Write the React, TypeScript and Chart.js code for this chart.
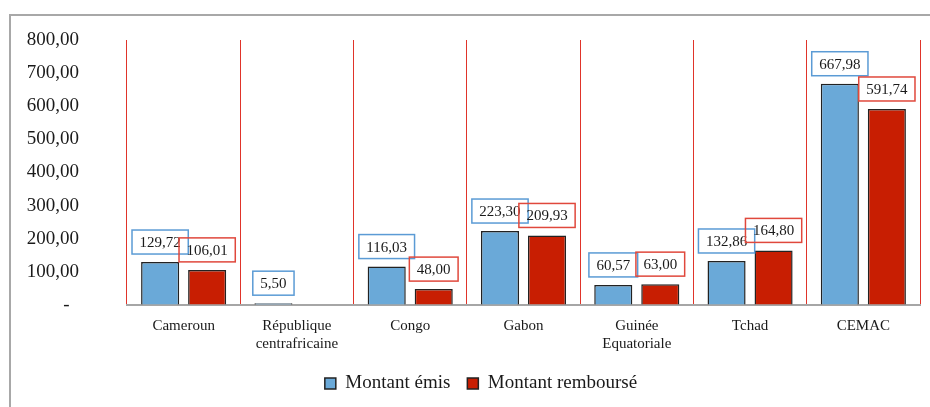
import React, { useEffect, useRef } from "react";
import { Chart, registerables } from "chart.js";

Chart.register(...registerables);

const categories: (string | string[])[] = [
  "Cameroun",
  ["République", "centrafricaine"],
  "Congo",
  "Gabon",
  ["Guinée", "Equatoriale"],
  "Tchad",
  "CEMAC",
];
const montantEmis: (number | null)[] = [129.72, 5.5, 116.03, 223.3, 60.57, 132.86, 667.98];
const montantRembourse: (number | null)[] = [106.01, null, 48.0, 209.93, 63.0, 164.8, 591.74];
const seriesNames = ["Montant émis", "Montant remboursé"];
const yMin = 0;
const yMax = 800;
const yStep = 100;

const FONT = '"Liberation Serif", "Times New Roman", serif';
const BLUE = "#6aa9d8";
const RED = "#c81e02";
const BLUE_BOX = "#5b9bd5";
const RED_BOX = "#e0483c";

const fmt = (v: number) => v.toFixed(2).replace(".", ",");

const labelPlugin = {
  id: "boxedLabels",
  afterDatasetsDraw(chart: any) {
    const ctx = chart.ctx;
    ctx.save();
    ctx.font = `15px ${FONT}`;
    ctx.textAlign = "center";
    ctx.textBaseline = "middle";
    chart.data.datasets.forEach((ds: any, di: number) => {
      const meta = chart.getDatasetMeta(di);
      meta.data.forEach((el: any, i: number) => {
        const v = ds.data[i];
        if (v === null || v === undefined) return;
        const txt = fmt(v);
        const w = ctx.measureText(txt).width + 15;
        const h = 24;
        const bottom = el.y - 8;
        const left = el.x - w / 2;
        ctx.fillStyle = "#1a1a1a";
        ctx.fillText(txt, el.x, bottom - h / 2 + 1);
        ctx.strokeStyle = di === 0 ? BLUE_BOX : RED_BOX;
        ctx.lineWidth = 1.5;
        ctx.strokeRect(left, bottom - h, w, h);
      });
    });
    ctx.restore();
  },
};

const legendShift = {
  id: "legendShift",
  afterLayout(chart: any) {
    const l = chart.legend;
    if (l) {
      l.left += 21;
      l.right += 21;
    }
  },
};

export default function App() {
  const ref = useRef<HTMLCanvasElement | null>(null);
  useEffect(() => {
    if (!ref.current) return;
    const chart = new Chart(ref.current, {
      type: "bar",
      data: {
        labels: categories,
        datasets: [
          {
            label: seriesNames[0],
            data: montantEmis,
            backgroundColor: BLUE,
            borderColor: "#222",
            borderWidth: 1.5,
            categoryPercentage: 0.83,
            barPercentage: 0.81,
          },
          {
            label: seriesNames[1],
            data: montantRembourse,
            backgroundColor: RED,
            borderColor: "#222",
            borderWidth: 1.5,
            categoryPercentage: 0.83,
            barPercentage: 0.81,
          },
        ],
      },
      options: {
        responsive: false,
        animation: false,
        layout: { padding: { top: 40, right: 10, left: 0, bottom: 4 } },
        plugins: {
          legend: {
            position: "bottom",
            labels: {
              boxWidth: 11,
              boxHeight: 11,
              padding: 17,
              color: "#1a1a1a",
              font: { family: FONT, size: 19 },
            },
          },
          tooltip: { enabled: false },
        },
        scales: {
          x: {
            grid: { color: "#e0342a", lineWidth: 1, drawTicks: false, offset: true },
            border: { display: true, color: "#a6a6a6", width: 2 },
            ticks: {
              color: "#1a1a1a",
              font: { family: FONT, size: 15, lineHeight: 1.2 },
              padding: 12,
              maxRotation: 0,
              autoSkip: false,
            },
            afterFit: (s: any) => {
              s.height = 52;
            },
          },
          y: {
            min: yMin,
            max: yMax,
            grid: { display: true, drawOnChartArea: false, drawTicks: true, tickLength: 48, color: "rgba(0,0,0,0)" },
            border: { display: false },
            ticks: {
              stepSize: yStep,
              padding: 0,
              color: "#1a1a1a",
              font: { family: FONT, size: 19 },
              callback: (v: any) => (Number(v) === 0 ? "-  " : fmt(Number(v))),
            },
            afterFit: (s: any) => {
              s.width = 127;
            },
          },
        },
      },
      plugins: [labelPlugin, legendShift],
    });
    return () => chart.destroy();
  }, []);
  return (
    <div style={{ position: "absolute", left: 0, top: 0, width: 930, height: 407, overflow: "hidden", background: "#fff" }}>
      <div
        style={{
          position: "absolute",
          left: 9,
          top: 14,
          width: 960,
          height: 420,
          borderLeft: "2px solid #a8a8a8",
          borderTop: "2px solid #a8a8a8",
        }}
      />
      <canvas ref={ref} width={930} height={407} style={{ position: "absolute", left: 0, top: 0 }} />
    </div>
  );
}
